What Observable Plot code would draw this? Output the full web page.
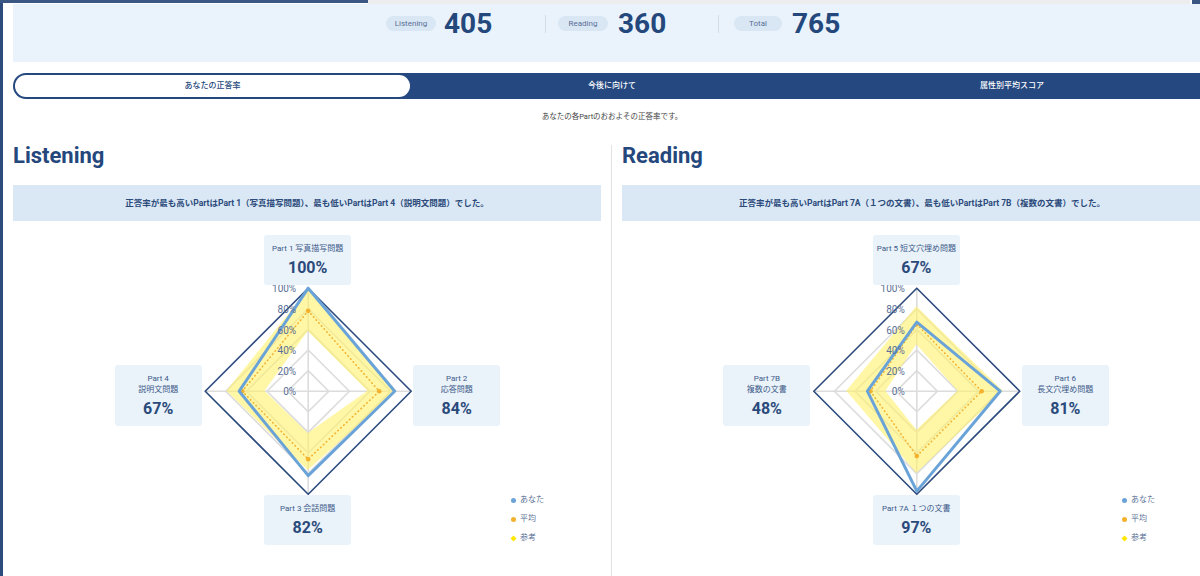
<!DOCTYPE html>
<html><head><meta charset="utf-8">
<script src="https://cdn.jsdelivr.net/npm/d3@7"></script>
<script src="https://cdn.jsdelivr.net/npm/@observablehq/plot@0.6"></script>
<style>
body{margin:0;width:1200px;height:576px;overflow:hidden;background:#fff;position:relative;font-family:Roboto,"Noto Sans CJK JP",sans-serif;color:#24477c}
.a{position:absolute}
.pill{background:#d9e7f5;border-radius:8px;height:15px;line-height:15px;font-size:8px;color:#5a6f96;text-align:center}
.num{font-size:28px;font-weight:700;line-height:28px;color:#24477c}
.tab{font-size:8px;line-height:22px;text-align:center;font-weight:500}
.box{background:#eaf2fa;border-radius:3px;text-align:center;box-sizing:border-box;padding-top:8px}
.box .n{font-size:8px;line-height:11px;color:#3d5b89;white-space:pre}
.box .v{font-size:16px;font-weight:700;line-height:18px;margin-top:5px;color:#2a4a7b}
.info{background:#dae8f6;font-size:8.5px;font-weight:700;text-align:center;color:#2b4a7a}
.lg{font-size:8px;color:#5a6f96;line-height:10px}
</style></head><body>
<script>
// ---- data ----
const scoreLabels = ["Listening", "Reading", "Total"];
const scoreValues = [405, 360, 765];
const tabLabels = ["あなたの正答率", "今後に向けて", "属性別平均スコア"];
const subtitle = "あなたの各Partのおおよその正答率です。";
const sectionTitles = ["Listening", "Reading"];
const sectionNotes = [
  "正答率が最も高いPartはPart 1（写真描写問題）、最も低いPartはPart 4（説明文問題）でした。",
  "正答率が最も高いPartはPart 7A（１つの文書）、最も低いPartはPart 7B（複数の文書）でした。"
];
const listeningParts = ["Part 1 写真描写問題", "Part 2\n応答問題", "Part 3 会話問題", "Part 4\n説明文問題"];
const listeningYou = [100, 84, 82, 67];
const listeningAvg = [78, 69, 66, 64];
const listeningRefLow = [58, 58, 41, 42];
const listeningRefHigh = [98, 86, 77, 79];
const readingParts = ["Part 5 短文穴埋め問題", "Part 6\n長文穴埋め問題", "Part 7A １つの文書", "Part 7B\n複数の文書"];
const readingYou = [67, 81, 97, 48];
const readingAvg = [65, 63, 63, 45];
const readingRefLow = [45, 40, 38, 30];
const readingRefHigh = [82, 84, 80, 68];
const rTicks = [0, 20, 40, 60, 80, 100];
const legendLabels = ["あなた", "平均", "参考"];
const legendColors = ["#6aa3d8", "#f3b12e", "#ffe600"];

// ---- page chrome ----
function el(cls, style, html) {
  const d = document.createElement("div");
  d.className = cls; d.setAttribute("style", style);
  if (html != null) d.innerHTML = html;
  document.body.appendChild(d); return d;
}
el("a", "left:0;top:0;width:3px;height:576px;background:#2c4a7c");
el("a", "left:0;top:0;width:368px;height:3px;background:#3a5682");
el("a", "left:368px;top:0;width:822px;height:4px;background:#ededed");
el("a", "left:1192px;top:0;width:8px;height:5px;background:#3a5682");
el("a", "left:13px;top:4px;width:1187px;height:58px;background:#eaf3fb");
const pillX = [386, 558, 734], numX = [444, 618, 792];
scoreLabels.forEach((s, i) => {
  el("a pill", `left:${pillX[i]}px;top:16px;width:${i==2?48:50}px`, s);
  el("a num", `left:${numX[i]}px;top:10px`, scoreValues[i]);
});
el("a", "left:545px;top:15px;width:1px;height:18px;background:#d5dce6");
el("a", "left:718px;top:15px;width:1px;height:18px;background:#d5dce6");
// tabs
el("a", "left:13px;top:73px;width:1200px;height:26px;background:#24487f;border-radius:13px 0 0 13px");
el("a", "left:15px;top:75px;width:395px;height:22px;background:#fff;border-radius:11px");
el("a tab", "left:15px;top:75px;width:395px;color:#24477c", tabLabels[0]);
el("a tab", "left:412px;top:75px;width:400px;color:#fff", tabLabels[1]);
el("a tab", "left:812px;top:75px;width:400px;color:#fff", tabLabels[2]);
el("a", "left:0;top:111px;width:1224px;text-align:center;font-size:7.5px;color:#444;line-height:12px", subtitle);
// divider
el("a", "left:611px;top:145px;width:1px;height:431px;background:#e2e2e2");

// ---- radar ----
function radar(cfg) {
  const {left, top, width, height, cx, cy, parts, you, avg, lo, hi, title, note, legendX} = cfg;
  el("a", `left:${left+13}px;top:${143}px;font-size:22px;font-weight:700;line-height:26px;color:#24477c`, title);
  el("a info", `left:${left+13}px;top:185px;width:${left ? 600 : 588}px;height:36px;line-height:36px`, note);
  const R = 103;
  const idx = parts.map((_, i) => i);
  const px = (v, i) => v * Math.sin(i * Math.PI / 2);
  const py = (v, i) => v * Math.cos(i * Math.PI / 2);
  const rings = rTicks.filter(t => t > 0).flatMap(t => idx.map(i => ({t, x: px(t, i), y: py(t, i)})));
  const spokes = idx.map(i => ({x0: 0, y0: 0, x: px(100, i), y: py(100, i)}));
  const band = idx.map(i => ({x1: px(hi[i], i), y1: py(hi[i], i), x2: px(lo[i], i), y2: py(lo[i], i)}));
  const youPts = idx.map(i => ({x: px(you[i], i), y: py(you[i], i)}));
  const avgPts = idx.map(i => ({x: px(avg[i], i), y: py(avg[i], i)}));
  const svg = Plot.plot({
    width, height, margin: 0,
    x: {domain: [-100, 100], range: [cx - R, cx + R], axis: null},
    y: {domain: [-100, 100], range: [cy + R, cy - R], axis: null},
    style: {background: "transparent", overflow: "visible", fontFamily: "Roboto, sans-serif"},
    marks: [
      Plot.line(rings.filter(d => d.t < 100), {x: "x", y: "y", z: "t", curve: "linear-closed", stroke: "#dcdcdc", strokeWidth: 1.6}),
      Plot.link(spokes, {x1: "x0", y1: "y0", x2: "x", y2: "y", stroke: "#dcdcdc", strokeWidth: 1.6}),
      Plot.area(band, {x1: "x1", y1: "y1", x2: "x2", y2: "y2", curve: "linear-closed", fill: "#fff06a", fillOpacity: 0.6}),
      Plot.line(rings.filter(d => d.t === 100), {x: "x", y: "y", curve: "linear-closed", stroke: "#2c4a7c", strokeWidth: 1.6}),
      Plot.line(avgPts, {x: "x", y: "y", curve: "linear-closed", stroke: "#f3b12e", strokeWidth: 1.6, strokeDasharray: "0.5,3.5", strokeLinecap: "round"}),
      Plot.dot(avgPts, {x: "x", y: "y", r: 2.3, fill: "#f3b12e"}),
      Plot.line(youPts, {x: "x", y: "y", curve: "linear-closed", stroke: "#6aa3d8", strokeWidth: 3}),
      Plot.text(rTicks, {x: 0, y: d => d, text: d => d + "%", textAnchor: "end", dx: -12, dy: 1, fill: "#5b6f95", fontSize: 10})
    ]
  });
  svg.style.position = "absolute";
  svg.style.left = left + "px";
  svg.style.top = top + "px";
  document.body.appendChild(svg);
  // label cards
  const acx = left + cx, acy = top + cy;
  const cards = [
    {x: acx, y: 260, h: 50}, {x: acx + 149, y: 395.5, h: 61},
    {x: acx, y: 520, h: 50}, {x: acx - 149.5, y: 395.5, h: 61}
  ];
  cards.forEach((c, i) => {
    el("a box", `left:${c.x - 43.5}px;top:${c.y - c.h / 2}px;width:87px;height:${c.h}px`,
      `<div class="n">${parts[i]}</div><div class="v">${you[i]}%</div>`);
  });
  legendLabels.forEach((s, i) => {
    const y = 500 + i * 19;
    if (i < 2) el("a", `left:${legendX - 2.5}px;top:${y - 2.5}px;width:5px;height:5px;border-radius:50%;background:${legendColors[i]}`);
    else el("a", `left:${legendX - 2.5}px;top:${y - 2.5}px;width:5px;height:5px;transform:rotate(45deg) scale(0.85);background:${legendColors[i]}`);
    el("a lg", `left:${legendX + 7}px;top:${y - 5}px`, s);
  });
}
radar({left: 0, top: 230, width: 611, height: 346, cx: 307.7, cy: 160.7,
  parts: listeningParts, you: listeningYou, avg: listeningAvg, lo: listeningRefLow, hi: listeningRefHigh,
  title: sectionTitles[0], note: sectionNotes[0], legendX: 513});
radar({left: 609, top: 230, width: 591, height: 346, cx: 307.3, cy: 160.7,
  parts: readingParts, you: readingYou, avg: readingAvg, lo: readingRefLow, hi: readingRefHigh,
  title: sectionTitles[1], note: sectionNotes[1], legendX: 1124});
</script>
</body></html>
